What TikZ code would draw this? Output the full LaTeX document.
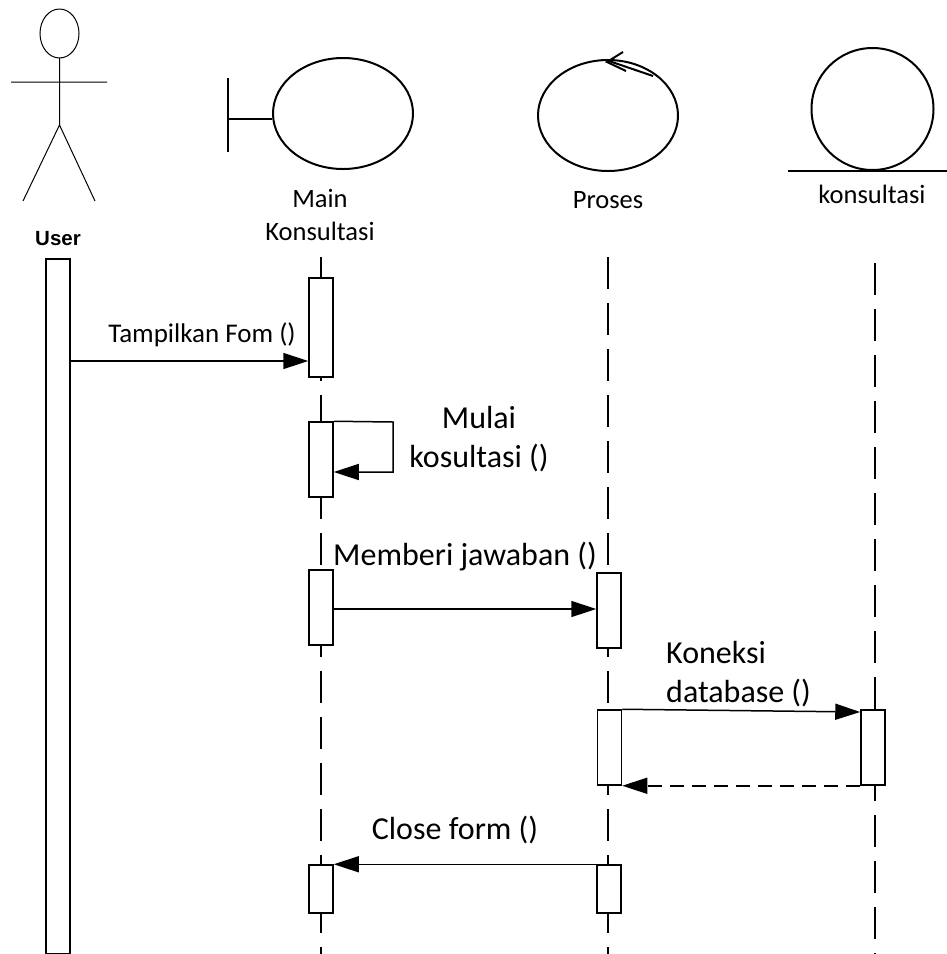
\documentclass[tikz,border=0pt]{standalone}
\usepackage{fontspec}
\setmainfont{Carlito}
\newfontfamily\usrfont{Liberation Sans}
\usetikzlibrary{arrows.meta,shapes.geometric}
\begin{document}
\begin{tikzpicture}[x=1pt,y=-1pt,
  act/.style={draw, fill=white, line width=1.5pt, minimum width=24pt, inner sep=0pt, rectangle},
  life/.style={line width=1.5pt, dash pattern=on 32pt off 14pt},
  msg/.style={line width=1.5pt, -{Triangle[length=25pt,width=16pt]}},
  ret/.style={msg, dash pattern=on 14pt off 8pt},
  obj/.style={draw, line width=2pt, inner sep=0pt},
  lbl/.style={font=\fontsize{26.5}{33}\selectfont, inner sep=0pt, anchor=base},
  big/.style={font=\fontsize{32}{39}\selectfont, inner sep=0pt, anchor=base}]
\useasboundingbox (0,0) rectangle (947,954);

% actor
\draw[line width=1pt] (59.5,33.5) ellipse [x radius=19.5, y radius=24.5];
\draw[line width=1pt] (59.5,58) -- (59.5,125) (11,82) -- (107,82) (23,201) -- (59.5,125) -- (95,201);
\node[font=\usrfont\bfseries\fontsize{20.5}{24}\selectfont, anchor=base, inner sep=0pt] (userlbl) at (58,245) {User};

% boundary
\node[obj, ellipse, minimum width=140pt, minimum height=111pt] (mainobj) at (343,113.5) {};
\coordinate (bar) at (228,119);
\draw[line width=2pt] (228,78) -- (228,152);
\draw[line width=2pt] (bar) -- (bar -| mainobj.west);
\node[lbl, align=center] (mainlbl) at (320,240) {Main\\Konsultasi};

% control
\node[obj, ellipse, minimum width=140pt, minimum height=111pt] (proc) at (608,115.5) {};
\draw[line width=2pt] (623,52) -- (607,62) -- (626,71);
\draw[line width=2pt] (609,61) -- (653,76);
\node[lbl] (proclbl) at (608,208) {Proses};

% entity
\node[obj, circle, minimum size=122pt] (ent) at (872.5,109) {};
\draw[line width=1.5pt] (788,171) -- (947,171);
\node[lbl] (entlbl) at (872,203) {konsultasi};

% lifelines
\draw[life] (321,257) -- (321,954);
\draw[life] (608,257) -- (608,954);
\draw[life] (875,263) -- (875,954);

% activations
\node[act, minimum height=695pt, anchor=north] (ub) at (58,258) {};
\node[act, minimum height=99pt] (mb1) at (321,327.5) {};
\node[act, minimum height=75pt] (mb2) at (321,459.5) {};
\node[act, minimum height=75pt] (mb3) at (321,607.5) {};
\node[act, minimum height=48pt] (mb4) at (321,889) {};
\node[act, minimum height=75pt] (pb1) at (609,610.5) {};
\node[act, minimum height=75pt] (pb2) at (609.5,747.5) {};
\node[act, minimum height=48pt] (pb3) at (609,889) {};
\node[act, minimum height=75pt] (kb1) at (873,747.5) {};

% messages
\draw[msg] (ub.east |- 0,361) -- (mb1.west |- 0,361);
\node[lbl, font=\fontsize{27}{33}\selectfont] (m1) at (202,342) {Tampilkan Fom ()};

\coordinate (selfa) at (393,422);
\coordinate (selfb) at (393,472);
\draw[msg] (mb2.north east) -- (selfa) -- (selfb) -- (mb2.east |- selfb);
\node[big, align=center] (m2) at (479,467) {Mulai\\kosultasi ()};

\draw[msg] (mb3.east |- 0,609) -- (pb1.west |- 0,609);
\node[big] (m3) at (465,565) {Memberi jawaban ()};

\draw[msg] (pb2.north east) -- (kb1.west |- 0,712);
\node[big, align=left, anchor=base west] (m4) at (666,702) {Koneksi\\database ()};

\draw[ret] (kb1.south west) -- (pb2.south east);

\draw[msg] (pb3.north west) -- (mb4.north east);
\node[big] (m5) at (455,839) {Close form ()};
\end{tikzpicture}
\end{document}
